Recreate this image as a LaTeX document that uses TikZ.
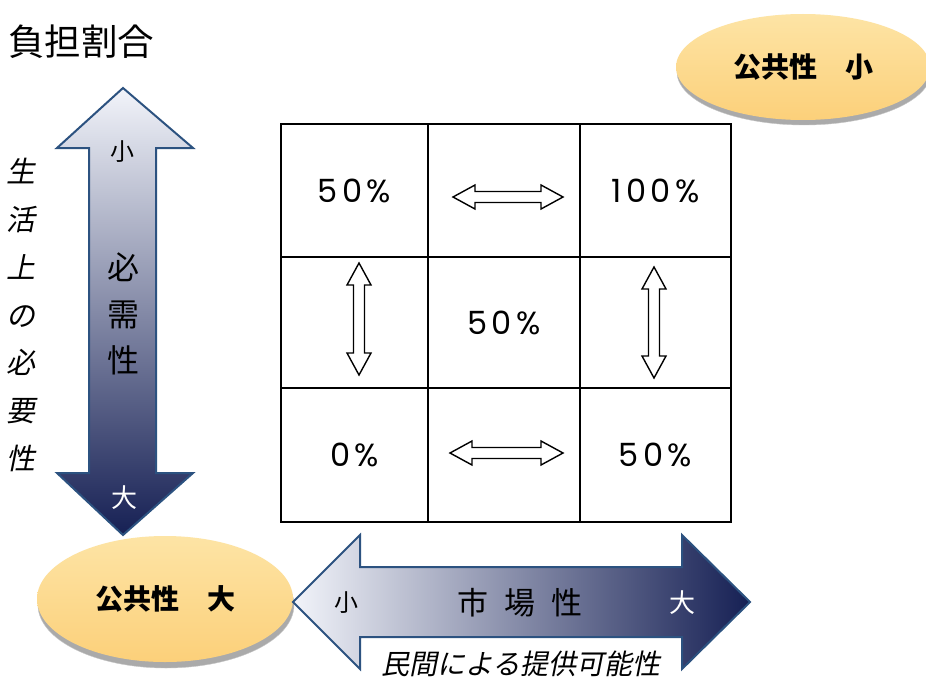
\documentclass[tikz,border=0pt]{standalone}
\usepackage{fontspec}
\setmainfont{Noto Sans CJK JP}
\newfontfamily\slantcjk[FakeSlant=0.2]{Noto Sans CJK JP}
\newfontfamily\numfont[LetterSpace=14]{Poppins}
\usetikzlibrary{shapes.geometric}
\definecolor{arrowline}{RGB}{44,82,128}
\definecolor{gradA}{RGB}{242,244,250}
\definecolor{gradB}{RGB}{172,175,195}
\definecolor{gradC}{RGB}{22,32,84}
\definecolor{ellA}{RGB}{253,228,165}
\definecolor{ellB}{RGB}{252,208,122}
\definecolor{shadowgrey}{RGB}{170,170,170}
\tikzset{
  cellbox/.style={draw=black,line width=2pt,rectangle,inner sep=0pt,outer sep=0pt,
    font=\numfont\fontsize{32}{36}\selectfont},
  bigarrow/.style={draw=arrowline,line width=2pt,line join=miter},
  ellshadow/.style={ellipse,fill=shadowgrey,draw=gray!45,inner sep=0pt},
  ellbox/.style={ellipse,top color=ellA,bottom color=ellB,inner sep=0pt,
    font=\bfseries\fontsize{28}{30}\selectfont},
  darr/.pic={\draw[line width=1.4pt,fill=white,line join=miter]
    (-#1,0) -- (-#1+22,-12) -- (-#1+22,-5.5) -- (#1-22,-5.5) -- (#1-22,-12) -- (#1,0)
    -- (#1-22,12) -- (#1-22,5.5) -- (-#1+22,5.5) -- (-#1+22,12) -- cycle;}
}
\begin{document}
\begin{tikzpicture}[x=1pt,y=-1pt]
\useasboundingbox (0,0) rectangle (926,677);
\fill[white] (0,0) rectangle (926,677);

% title
\node[anchor=west,inner sep=0pt,font=\fontsize{36.5}{38}\selectfont] (title) at (8,42) {負担割合};

% ellipses
\node[ellshadow,minimum width=254,minimum height=106] (pubSsh) at (804,72) {};
\node[ellbox,minimum width=254,minimum height=106] (pubS) at (803,67) {公共性　小};
\node[ellshadow,minimum width=256,minimum height=126] (pubLsh) at (166,605) {};
\node[ellbox,minimum width=256,minimum height=126] (pubL) at (165,599) {公共性　大};

% vertical arrow
\draw[bigarrow,top color=gradA,middle color=gradB,bottom color=gradC]
  (123,88) -- (193,148) -- (156,148) -- (156,473) -- (193,473) -- (123,535)
  -- (57,473) -- (89,473) -- (89,148) -- (57,148) -- cycle;
\node[font=\fontsize{24}{26}\selectfont] (vsmall) at (122,152) {小};
\node[align=center,font=\fontsize{32}{46.5}\selectfont] (vlabel) at (123,314) {必\\需\\性};
\node[text=white,font=\fontsize{26}{28}\selectfont] (vlarge) at (124,498) {大};

% left italic label
\node[align=center,font=\slantcjk\fontsize{29}{47.7}\selectfont] (vside) at (21,315)
  {生\\活\\上\\の\\必\\要\\性};

% horizontal arrow
\draw[bigarrow,left color=gradA,middle color=gradB,right color=gradC]
  (293,602) -- (360,535) -- (360,567) -- (682,567) -- (682,535) -- (750,602)
  -- (682,669) -- (682,637) -- (360,637) -- (360,669) -- cycle;
\node[font=\fontsize{24}{26}\selectfont] (hsmall) at (346,603) {小};
\node[font=\fontsize{31}{33}\selectfont] (hlabel) at (520,603) {市\hspace{16pt}場\hspace{16pt}性};
\node[text=white,font=\fontsize{26}{28}\selectfont] (hlarge) at (682,603) {大};
\node[font=\slantcjk\fontsize{28}{30}\selectfont] (hside) at (521,664) {民間による提供可能性};

% grid
\node[cellbox,minimum width=147,minimum height=133] (c11) at (354.5,190.5) {50\%};
\node[cellbox,minimum width=152,minimum height=133] (c12) at (504,190.5) {};
\node[cellbox,minimum width=151,minimum height=133] (c13) at (655.5,190.5) {100\%};
\node[cellbox,minimum width=147,minimum height=131] (c21) at (354.5,322.5) {};
\node[cellbox,minimum width=152,minimum height=131] (c22) at (504,322.5) {50\%};
\node[cellbox,minimum width=151,minimum height=131] (c23) at (655.5,322.5) {};
\node[cellbox,minimum width=147,minimum height=134] (c31) at (354.5,455) {0\%};
\node[cellbox,minimum width=152,minimum height=134] (c32) at (504,455) {};
\node[cellbox,minimum width=151,minimum height=134] (c33) at (655.5,455) {50\%};

% double arrows
\pic at (508,197) {darr=55};
\pic at (506.5,453) {darr=56.5};
\pic[rotate=90] at (359,319) {darr=56};
\pic[rotate=90] at (654,322.5) {darr=55.5};
\end{tikzpicture}
\end{document}
